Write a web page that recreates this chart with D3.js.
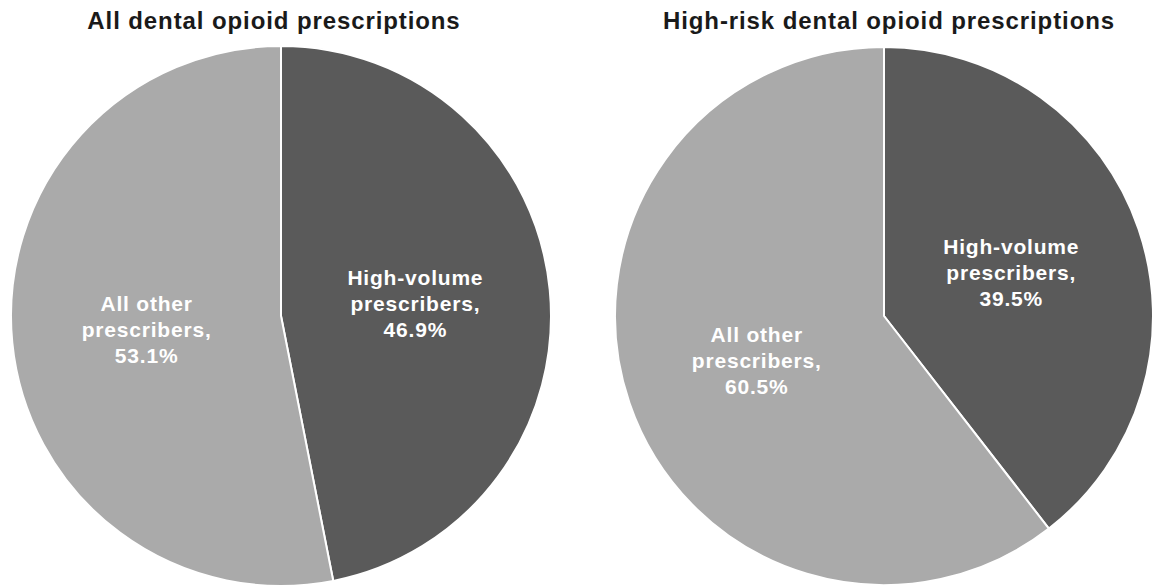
<!DOCTYPE html>
<meta charset="utf-8">
<style>
body { margin: 0; background: #fff; }
.title { font: bold 24px "Liberation Sans", Arial, sans-serif; letter-spacing: 0.9px; fill: #1a1a1a; text-anchor: middle; }
.lbl { font: bold 21px "Liberation Sans", Arial, sans-serif; letter-spacing: 0.8px; fill: #fff; text-anchor: middle; }
</style>
<svg id="chart" width="1155" height="587"></svg>
<script src="https://cdn.jsdelivr.net/npm/d3@7"></script>
<script>

const titles = ["All dental opioid prescriptions", "High-risk dental opioid prescriptions"];
const categories = ["High-volume prescribers", "All other prescribers"];
// how each category name is broken over two lines inside its slice
const categoryLines = [["High-volume", "prescribers,"], ["All other", "prescribers,"]];
const allValues = [46.9, 53.1];
const highRiskValues = [39.5, 60.5];

const colors = d3.scaleOrdinal().domain(categories).range(["#5a5a5a", "#aaaaaa"]);

const svg = d3.select("#chart");

const panels = [
  { title: titles[0], values: allValues, cx: 281, cy: 316, r: 270, tx: 274 },
  { title: titles[1], values: highRiskValues, cx: 884, cy: 316, r: 269, tx: 889 }
];

const pie = d3.pie().sort(null).value(d => d.value);

panels.forEach(p => {
  svg.append("text").attr("class", "title")
      .attr("x", p.tx).attr("y", 29)
      .text(p.title);

  const data = categories.map((c, i) => ({ name: c, lines: categoryLines[i], value: p.values[i] }));
  const arc = d3.arc().innerRadius(0).outerRadius(p.r);

  const g = svg.append("g").attr("transform", "translate(" + p.cx + "," + p.cy + ")");

  const slices = g.selectAll("g")
      .data(pie(data))
    .enter().append("g");

  slices.append("path")
      .attr("d", arc)
      .attr("fill", d => colors(d.data.name))
      .attr("stroke", "#fff")
      .attr("stroke-width", 2);

  slices.append("text")
      .attr("class", "lbl")
      .attr("transform", d => "translate(" + arc.centroid(d) + ")")
      .each(function(d) {
        const lines = d.data.lines.concat(d.data.value.toFixed(1) + "%");
        d3.select(this).selectAll("tspan")
            .data(lines)
          .enter().append("tspan")
            .attr("x", 0)
            .attr("y", (t, i) => (i - 1) * 26 + 8)
            .text(t => t);
      });
});

</script>
